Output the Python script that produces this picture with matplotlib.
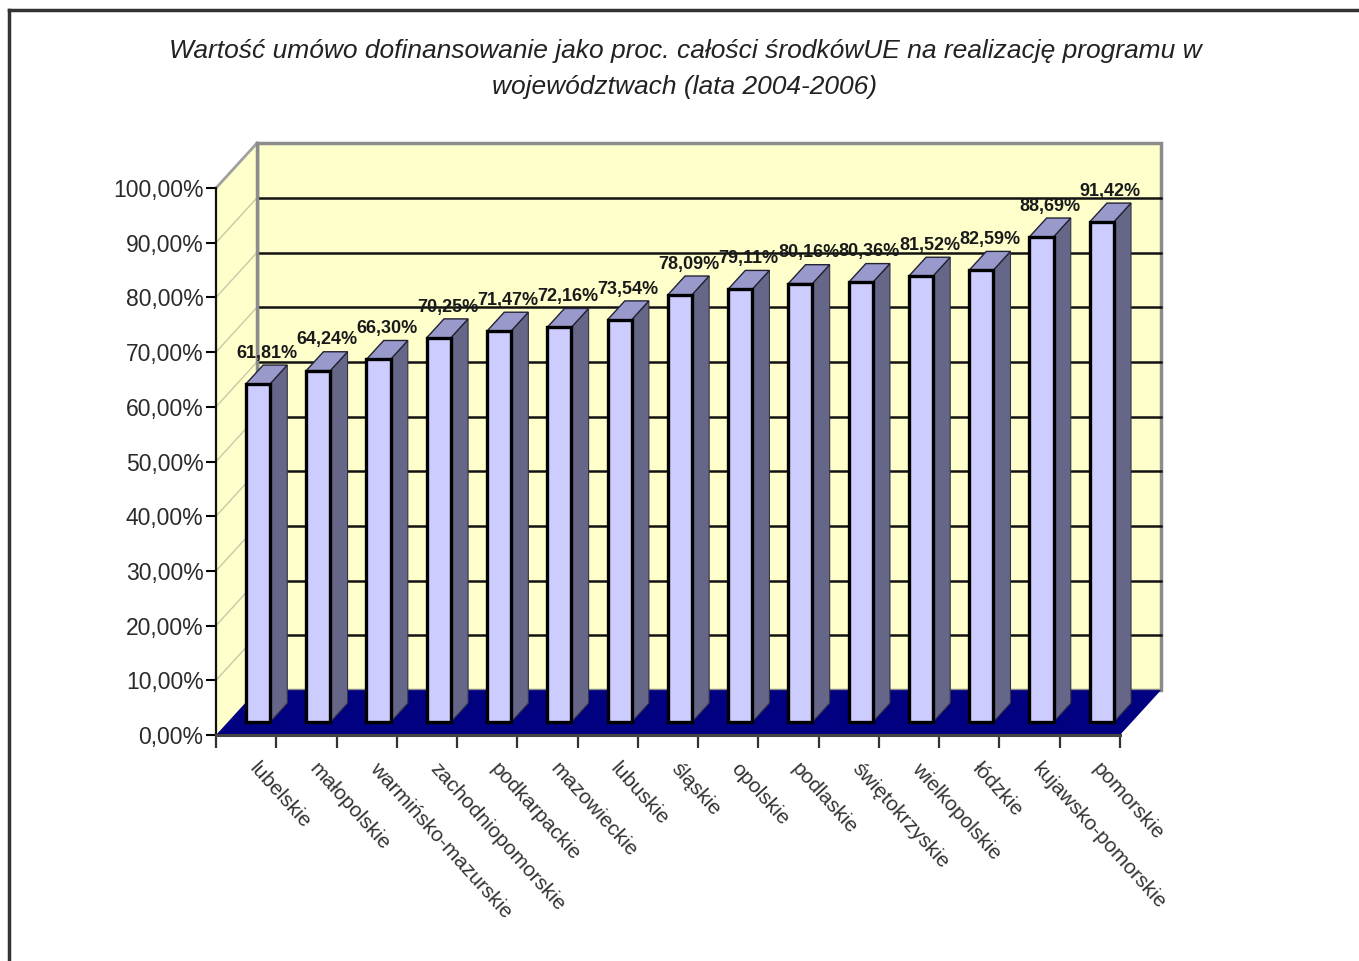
import matplotlib
matplotlib.use("Agg")
import matplotlib.pyplot as plt
from matplotlib.patches import Polygon, Rectangle
from matplotlib.lines import Line2D

regions = ["lubelskie", "małopolskie", "warmińsko-mazurskie", "zachodniopomorskie",
           "podkarpackie", "mazowieckie", "lubuskie", "śląskie", "opolskie",
           "podlaskie", "świętokrzyskie", "wielkopolskie", "łódzkie",
           "kujawsko-pomorskie", "pomorskie"]
values = [61.81, 64.24, 66.30, 70.25, 71.47, 72.16, 73.54, 78.09, 79.11,
          80.16, 80.36, 81.52, 82.59, 88.69, 91.42]
yticks = [0, 10, 20, 30, 40, 50, 60, 70, 80, 90, 100]
title = ("Wartość umówo dofinansowanie jako proc. całości środkówUE na realizację programu w\n"
         "województwach (lata 2004-2006)")

narrow = ["Liberation Sans Narrow", "Liberation Sans", "DejaVu Sans"]
sans = ["Liberation Sans", "DejaVu Sans"]

# fake 3d: depth vector in data units (categories, percent)
DX, DY = 0.68, 8.2
D0, D1 = 0.29, 0.71      # bar front / back depth
W = 0.40                 # bar width

front_col = "#ccccff"
top_col = "#9999cc"
side_col = "#666688"
wall_col = "#ffffcc"
floor_col = "#000080"

fig = plt.figure(figsize=(13.59, 9.61), dpi=100)
W_PX, H_PX = 1359, 961
ax = fig.add_axes([216 / W_PX, (H_PX - 735) / H_PX, 904 / W_PX, 547 / H_PX])
n = len(values)
ax.set_xlim(0, n)
ax.set_ylim(0, 100)
ax.patch.set_visible(False)
for s in ["top", "right"]:
    ax.spines[s].set_visible(False)
ax.spines["left"].set_linewidth(1.6)
ax.spines["left"].set_color("#111111")
ax.spines["bottom"].set_linewidth(2.2)
ax.spines["bottom"].set_color("#444444")

# back wall
ax.add_patch(Rectangle((DX, DY), n, 100, facecolor=wall_col, edgecolor="#8c8c8c",
                       lw=2.5, clip_on=False, zorder=0))
for t in yticks[1:-1]:
    ax.add_line(Line2D([DX, n + DX], [t + DY, t + DY], color="#111111", lw=1.8,
                       clip_on=False, zorder=0.5))

# side wall
ax.add_patch(Polygon([(0, 0), (0, 100), (DX, 100 + DY), (DX, DY)], closed=True,
                     facecolor=wall_col, edgecolor="none", clip_on=False, zorder=0.6))
for t in yticks[1:-1]:
    ax.add_line(Line2D([0, DX], [t, t + DY], color="#c8c8a8", lw=1.0,
                       clip_on=False, zorder=0.7))
ax.add_line(Line2D([0, DX], [100, 100 + DY], color="#a0a0a0", lw=2.0,
                   clip_on=False, zorder=0.7))
ax.add_line(Line2D([DX, DX], [DY, 100 + DY], color="#8c8c8c", lw=2.5,
                   clip_on=False, zorder=0.7))

# floor
ax.add_patch(Polygon([(0, 0), (n, 0), (n + DX, DY), (DX, DY)], closed=True,
                     facecolor=floor_col, edgecolor="none", clip_on=False, zorder=0.8))

# bars
ddx = (D1 - D0) * DX
ddy = (D1 - D0) * DY
for i, v in enumerate(values):
    xl = i + 0.5 - W / 2 + D0 * DX
    xr = xl + W
    y0 = D0 * DY
    y1 = v + D0 * DY
    ax.add_patch(Polygon([(xr, y0), (xr, y1), (xr + ddx, y1 + ddy), (xr + ddx, y0 + ddy)],
                         closed=True, facecolor=side_col, edgecolor="#333344", lw=0.8,
                         clip_on=False, zorder=1))
    ax.add_patch(Polygon([(xl, y1), (xr, y1), (xr + ddx, y1 + ddy), (xl + ddx, y1 + ddy)],
                         closed=True, facecolor=top_col, edgecolor="#222233", lw=1.0,
                         clip_on=False, zorder=1.1))
    ax.add_patch(Rectangle((xl, y0), W, v, facecolor=front_col, edgecolor="black",
                           lw=2.4, clip_on=False, zorder=1.2))
    lab = f"{v:.2f}%".replace(".", ",")
    ax.text(xl + W / 2 + ddx / 2, y1 + ddy + 0.6, lab, ha="center", va="bottom",
            fontsize=13, family=narrow, fontweight="bold", color="#1a1a1a",
            zorder=3, clip_on=False)

# axes ticks
ax.set_yticks(yticks)
ax.set_yticklabels([f"{t:.2f}%".replace(".", ",") for t in yticks], family=sans,
                   fontsize=16.5, color="#2a2a2a")
ax.tick_params(axis="y", direction="out", length=7, width=1.5, pad=2)
ax.set_xticks(range(n + 1))
ax.set_xticklabels([])
ax.tick_params(axis="x", direction="out", length=9, width=1.6, color="#333333")

for i, name in enumerate(regions):
    ax.text(i + 0.72, -4.4, name, rotation=-48, rotation_mode="anchor",
            ha="left", va="top", fontsize=15, family=sans, color="#333333",
            clip_on=False)

fig.text(685 / W_PX, 1 - 69 / H_PX, title, ha="center", va="center", fontsize=19,
         style="italic", family=narrow, color="#222222", linespacing=1.65)

# outer frame
fig.add_artist(Line2D([9 / W_PX, 9 / W_PX], [0, 1 - 10 / H_PX], color="#333333",
                      lw=2.5, transform=fig.transFigure))
fig.add_artist(Line2D([9 / W_PX, 1], [1 - 10 / H_PX, 1 - 10 / H_PX], color="#333333",
                      lw=2.5, transform=fig.transFigure))

fig.savefig("out.png", dpi=100)
